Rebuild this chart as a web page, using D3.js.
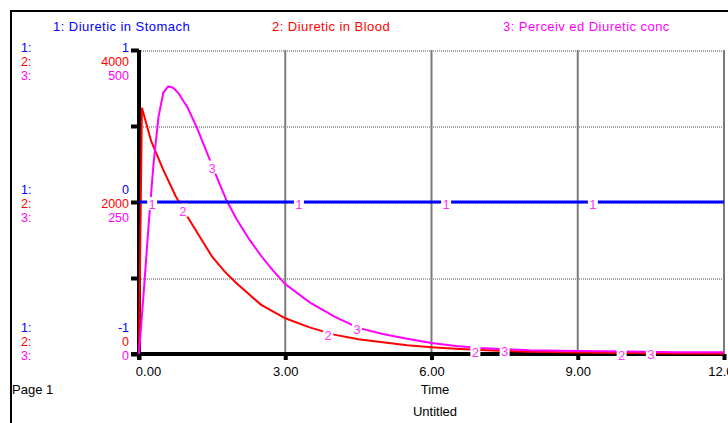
<!DOCTYPE html>
<html>
<head>
<meta charset="utf-8">
<script src="https://cdn.jsdelivr.net/npm/d3@7"></script>
<style>
  body { margin: 0; background: #fff; }
  text { font-family: "Liberation Sans", Arial, sans-serif; font-size: 13px; }
</style>
</head>
<body>
<svg width="728" height="423"></svg>
<script>
// series data
var seriesNames = ["1: Diuretic in Stomach", "2: Diuretic in Blood", "3: Perceiv ed Diuretic conc"];
var seriesColors = ["#0000ff", "#ff0000", "#ff00ff"];

var stomachTime = [0, 12];
var stomachVal = [0, 0];

var bloodTime = [0, 0.06, 0.25, 0.5, 0.75, 1.0, 1.25, 1.5, 1.75, 2.0, 2.5, 3.0, 3.5, 4.0, 4.5, 5.0, 5.5, 6.0, 6.5, 7.0, 7.5, 8.0, 9.0, 10.0, 11.0, 12.0];
var bloodVal = [0, 3240, 2800, 2420, 2080, 1800, 1540, 1280, 1090, 930, 650, 470, 350, 255, 195, 155, 115, 88, 68, 52, 40, 31, 19, 12, 7, 4];

var percTime = [0, 0.1, 0.2, 0.3, 0.4, 0.5, 0.6, 0.7, 0.8, 1.0, 1.2, 1.4, 1.6, 1.8, 2.0, 2.25, 2.5, 2.75, 3.0, 3.5, 4.0, 4.5, 5.0, 5.5, 6.0, 6.5, 7.0, 7.5, 8.0, 9.0, 10.0, 11.0, 12.0];
var percVal = [0, 105, 215, 315, 390, 430, 440, 438, 430, 405, 370, 330, 290, 252, 222, 190, 162, 137, 115, 85, 62, 43, 33, 25, 18, 13, 10, 8, 6, 5, 4, 3, 3];

// axis scales per series
var stomachDomain = [-1, 1];
var bloodDomain = [0, 4000];
var percDomain = [0, 500];
var scaleLabels = [["1", "0", "-1"], ["4000", "2000", "0"], ["500", "250", "0"]];

var timeTicks = [0, 3, 6, 9, 12];
var labelTimes = [[0.27, 3.28, 6.3, 9.31], [0.9, 3.88, 6.9, 9.9], [1.5, 4.47, 7.5, 10.5]];

var svg = d3.select("svg");

var plotL = 139, plotR = 724, plotT = 50, plotB = 354;
var labelColor = "#ff33ff";

var x = d3.scaleLinear().domain([0, 12]).range([plotL, plotR]);
var y1 = d3.scaleLinear().domain(stomachDomain).range([plotB, plotT]);
var y2 = d3.scaleLinear().domain(bloodDomain).range([plotB, plotT]);
var y3 = d3.scaleLinear().domain(percDomain).range([plotB, plotT]);

// outer frame
svg.append("path").attr("d", "M11,423V11H728").attr("fill", "none")
  .attr("stroke", "#000").attr("stroke-width", 2);

// horizontal grid (dotted)
svg.append("g").selectAll("line").data([4000, 3000, 2000, 1000]).enter().append("line")
  .attr("x1", plotL).attr("x2", plotR)
  .attr("y1", function(d) { return y2(d) + 1; }).attr("y2", function(d) { return y2(d) + 1; })
  .attr("stroke", "#a8a8a8").attr("stroke-width", 2).attr("stroke-dasharray", "1,1");

// vertical grid
svg.append("g").selectAll("line").data(timeTicks.slice(1)).enter().append("line")
  .attr("x1", function(d) { return x(d); }).attr("x2", function(d) { return x(d); })
  .attr("y1", plotT).attr("y2", plotB)
  .attr("stroke", "#7a7a7a").attr("stroke-width", 2);

// bottom axis
var xAxis = svg.append("g").attr("transform", "translate(0," + plotB + ")")
  .call(d3.axisBottom(x).tickValues(timeTicks).tickFormat(d3.format(".2f")).tickSize(6).tickPadding(7));
xAxis.select(".domain").attr("d", "M131,0H" + plotR).attr("stroke", "#000").attr("stroke-width", 4);
xAxis.selectAll(".tick line").attr("stroke", "#000").attr("stroke-width", 4);
xAxis.selectAll(".tick text").attr("fill", "#000").style("font-size", "13px")
  .style("font-family", "'Liberation Sans', Arial, sans-serif");
xAxis.selectAll(".tick text").filter(function(d) { return d === 0; }).attr("dx", 9);

// left axis
var yAxis = svg.append("g").attr("transform", "translate(" + plotL + ",0)")
  .call(d3.axisLeft(y2).tickValues([0, 1000, 2000, 3000, 4000]).tickSize(8).tickFormat(""));
yAxis.select(".domain").attr("d", "M0," + plotT + "V" + (plotB + 6)).attr("stroke", "#000").attr("stroke-width", 4);
yAxis.selectAll(".tick line").attr("stroke", "#000").attr("stroke-width", 4);

// lines
var line = function(ys) {
  return d3.line().x(function(d) { return x(d[0]); }).y(function(d) { return ys(d[1]); });
};
var bloodPts = d3.zip(bloodTime, bloodVal);
var percPts = d3.zip(percTime, percVal);
var stomachPts = d3.zip(stomachTime, stomachVal);

svg.append("path").datum(bloodPts).attr("d", line(y2))
  .attr("fill", "none").attr("stroke", seriesColors[1]).attr("stroke-width", 2);
svg.append("path").datum(percPts).attr("d", line(y3))
  .attr("fill", "none").attr("stroke", seriesColors[2]).attr("stroke-width", 2);
svg.append("path").datum(stomachPts).attr("d", line(y1))
  .attr("fill", "none").attr("stroke", seriesColors[0]).attr("stroke-width", 3);

// number labels along the curves
function valueAt(ts, vs, t) {
  var i = d3.bisectRight(ts, t);
  if (i <= 0) return vs[0];
  if (i >= ts.length) return vs[vs.length - 1];
  var f = (t - ts[i - 1]) / (ts[i] - ts[i - 1]);
  return vs[i - 1] + f * (vs[i] - vs[i - 1]);
}
var curves = [[stomachTime, stomachVal, y1], [bloodTime, bloodVal, y2], [percTime, percVal, y3]];
curves.forEach(function(c, k) {
  labelTimes[k].forEach(function(t) {
    var px = x(t), py = c[2](valueAt(c[0], c[1], t)) + 2;
    svg.append("rect").attr("x", px - 5).attr("y", py - 7).attr("width", 10).attr("height", 13).attr("fill", "#fff");
    svg.append("text").attr("x", px).attr("y", py + 5).attr("text-anchor", "middle")
      .attr("fill", labelColor).text(String(k + 1));
  });
});

// legend titles
var titleX = [53, 272, 503];
seriesNames.forEach(function(n, k) {
  svg.append("text").attr("x", titleX[k]).attr("y", 31).attr("fill", seriesColors[k])
    .style("letter-spacing", "0.45px").text(n);
});

// scale labels on the left
var groupY = [[52, 66, 80], [194, 208, 222], [332, 346, 360]];
groupY.forEach(function(g, gi) {
  g.forEach(function(yy, k) {
    svg.append("text").attr("x", 21).attr("y", yy).attr("fill", seriesColors[k])
      .style("font-size", "12.5px").text((k + 1) + ":");
    svg.append("text").attr("x", 129).attr("y", yy).attr("text-anchor", "end")
      .attr("fill", seriesColors[k]).style("font-size", "12.5px").text(scaleLabels[k][gi]);
  });
});

svg.append("text").attr("x", 12).attr("y", 394).attr("fill", "#000").text("Page 1");
svg.append("text").attr("x", 435).attr("y", 394).attr("text-anchor", "middle").attr("fill", "#000").text("Time");
svg.append("text").attr("x", 435).attr("y", 416).attr("text-anchor", "middle").attr("fill", "#000").text("Untitled");
</script>
</body>
</html>
